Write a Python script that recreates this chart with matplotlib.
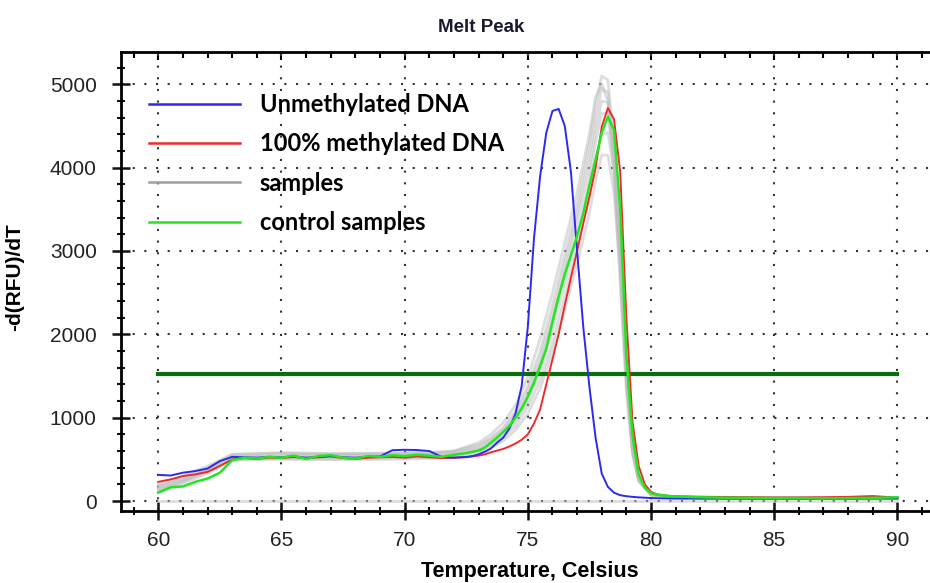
import numpy as np
import matplotlib.pyplot as plt
from matplotlib.lines import Line2D
from matplotlib.ticker import MultipleLocator

# Температурна сітка для основних кривих
temps = [60, 60.5, 61, 61.5, 62, 62.5, 63, 63.5, 64, 64.5, 65, 65.5, 66, 66.5, 67, 67.5,
         68, 68.5, 69, 69.5, 70, 70.5, 71, 71.5, 72,
         72.25, 72.5, 72.75, 73, 73.25, 73.5, 73.75, 74, 74.25, 74.5, 74.75, 75, 75.25,
         75.5, 75.75, 76, 76.25, 76.5, 76.75, 77, 77.25, 77.5, 77.75, 78, 78.25, 78.5,
         78.75, 79, 79.25, 79.5, 79.75, 80, 80.25, 80.5, 80.75, 81,
         82, 83, 84, 85, 86, 87, 88, 89, 90]

unmethylated = [314, 306, 340, 360, 390, 480, 530, 525, 520, 530, 525, 535, 520, 530, 540, 525,
                520, 530, 535, 610, 615, 612, 600, 530, 520,
                525, 530, 540, 560, 590, 630, 700, 760, 870, 1050, 1380, 2090, 3150,
                3900, 4420, 4680, 4705, 4500, 3950, 3000, 2090, 1370, 760, 330, 170, 100,
                70, 58, 50, 44, 40, 36, 34, 32, 30, 30,
                28, 28, 28, 28, 28, 28, 28, 30, 30]

methylated = [230, 260, 300, 320, 350, 420, 500, 515, 505, 520, 515, 530, 510, 525, 535, 515,
              505, 520, 525, 530, 520, 535, 525, 515, 520,
              522, 525, 535, 545, 560, 585, 605, 625, 655, 690, 735, 800, 930,
              1100, 1400, 1700, 2000, 2350, 2680, 3000, 3330, 3650, 4000, 4490, 4715, 4580,
              3950, 2200, 950, 420, 200, 110, 80, 70, 60, 55,
              50, 48, 45, 42, 42, 45, 50, 60, 40]

control = [102, 165, 175, 230, 270, 340, 490, 520, 510, 530, 520, 545, 505, 540, 550, 520,
           510, 540, 530, 550, 540, 555, 545, 530, 555,
           565, 575, 590, 605, 640, 700, 760, 830, 900, 1000, 1110, 1252, 1420,
           1620, 1830, 2150, 2450, 2720, 2950, 3180, 3450, 3790, 4100, 4420, 4610, 4450,
           3500, 1750, 780, 320, 160, 95, 75, 68, 60, 55,
           45, 40, 38, 35, 35, 33, 35, 38, 45]

# Сітка для сірих зразків
temps_s = [60, 61, 62, 63, 65, 67, 69, 71, 72, 73, 73.5, 74, 74.5, 75, 75.5, 76, 76.5, 77,
           77.5, 77.75, 78, 78.25, 78.5, 78.75, 79, 79.25, 79.5, 80, 81, 85, 90]

samples = [
    [150, 250, 380, 560, 580, 570, 575, 580, 600, 680, 760, 880, 1080, 1380, 1800, 2350, 2950, 3550,
     4300, 4750, 5100, 5050, 4300, 3000, 1500, 650, 280, 80, 50, 40, 40],
    [120, 230, 350, 540, 560, 555, 560, 565, 590, 660, 740, 860, 1040, 1330, 1720, 2250, 2850, 3450,
     4150, 4600, 4950, 4900, 4200, 2900, 1450, 600, 250, 75, 50, 40, 40],
    [200, 280, 400, 530, 540, 550, 545, 550, 575, 640, 720, 830, 1000, 1270, 1650, 2150, 2750, 3350,
     4000, 4450, 4800, 4780, 4150, 2950, 1550, 650, 270, 80, 50, 35, 35],
    [100, 210, 330, 510, 530, 520, 530, 535, 560, 620, 690, 790, 950, 1200, 1560, 2050, 2600, 3200,
     3850, 4300, 4650, 4650, 4100, 2900, 1500, 620, 260, 75, 45, 35, 35],
    [170, 260, 370, 500, 510, 505, 515, 520, 550, 610, 670, 760, 900, 1130, 1450, 1900, 2450, 3050,
     3650, 4050, 4400, 4420, 3950, 2850, 1500, 620, 260, 75, 45, 35, 40],
    [140, 240, 360, 490, 500, 495, 500, 510, 530, 590, 640, 720, 850, 1050, 1350, 1800, 2300, 2850,
     3450, 3850, 4150, 4150, 3700, 2750, 1450, 600, 250, 70, 45, 35, 35],
    [180, 300, 420, 560, 575, 565, 570, 580, 600, 700, 800, 940, 1150, 1480, 1950, 2500, 3100, 3700,
     4400, 4850, 5000, 4800, 3900, 2600, 1300, 550, 230, 70, 45, 35, 35],
    [5, 5, 5, 5, 5, 5, 5, 5, 5, 5, 5, 5, 5, 5, 5, 5, 5, 5,
     5, 5, 5, 5, 5, 5, 5, 5, 5, 5, 5, 5, 5],
]

threshold = 1530
labels = ['Unmethylated DNA', '100% methylated DNA', 'samples', 'control samples']

c_blue = '#2b2bf0'
c_red = '#f02a2a'
c_gray = '#bdbdbd'
c_green = '#22e622'

fig = plt.figure(figsize=(9.3, 5.83), dpi=100)
ax = fig.add_axes([0.1301, 0.124, 0.8699, 0.7873])

for s in samples:
    ax.plot(temps_s, s, color=c_gray, lw=2, alpha=0.5, zorder=2)

# Порогова лінія
ax.plot([60, 90], [threshold, threshold], color='#0a6e0a', lw=3, zorder=3)

ax.plot(temps, methylated, color=c_red, lw=1.4, zorder=4)
ax.plot(temps, unmethylated, color=c_blue, lw=1.4, zorder=5)
ax.plot(temps, control, color=c_green, lw=1.8, zorder=6)

ax.set_xlim(58.486, 91.325)
ax.set_ylim(-116, 5391)

ax.xaxis.set_major_locator(MultipleLocator(5))
ax.xaxis.set_minor_locator(MultipleLocator(1))
ax.yaxis.set_major_locator(MultipleLocator(1000))
ax.yaxis.set_minor_locator(MultipleLocator(200))

ax.tick_params(which='major', direction='inout', length=13, width=1.8, colors='#111111')
ax.tick_params(axis='y', which='major', pad=11)
ax.tick_params(axis='x', which='major', pad=8)
ax.tick_params(which='minor', direction='inout', length=6, width=1.5, colors='#111111')
for lab in ax.get_xticklabels() + ax.get_yticklabels():
    lab.set_fontfamily(['Liberation Sans', 'DejaVu Sans'])
    lab.set_fontsize(15)
    lab.set_color('#222222')

# Верхня вісь з внутрішніми рисками
top = ax.secondary_xaxis('top')
top.xaxis.set_major_locator(MultipleLocator(5))
top.xaxis.set_minor_locator(MultipleLocator(1))
top.tick_params(which='both', direction='in', labeltop=False, width=1.5)
top.tick_params(which='major', length=6)
top.tick_params(which='minor', length=4)
top.spines['top'].set_linewidth(2)

for side in ['left', 'bottom']:
    ax.spines[side].set_linewidth(2)
ax.spines['top'].set_visible(False)
ax.spines['right'].set_visible(False)

ax.grid(which='major', color='#333333', linestyle=(0, (1, 4.6)), linewidth=1.5)
ax.set_axisbelow(True)

fig.text(481 / 930, 1 - 27 / 583, 'Melt Peak', ha='center', va='center',
         fontsize=13.5, fontweight='bold', family='Liberation Sans', color='#1a1a2e')
fig.text(530 / 930, 1 - 572 / 583, 'Temperature, Celsius', ha='center', va='center',
         fontsize=15.5, fontweight='bold', family='Liberation Sans')
fig.text(15 / 930, 1 - 277 / 583, '-d(RFU)/dT', ha='center', va='center', rotation=90,
         fontsize=15, fontweight='bold', family='Liberation Sans')

handles = [Line2D([], [], color=c_blue, lw=1.8),
           Line2D([], [], color=c_red, lw=1.8),
           Line2D([], [], color='#a0a0a0', lw=1.8),
           Line2D([], [], color=c_green, lw=1.8)]
ax.legend(handles, labels, loc='upper left', bbox_to_anchor=(0.008, 0.956), frameon=False,
          handlelength=3.85, handletextpad=0.85, labelspacing=0.69,
          prop=dict(family='Lato', weight='bold', size=17))

fig.savefig('out.png', dpi=100)
